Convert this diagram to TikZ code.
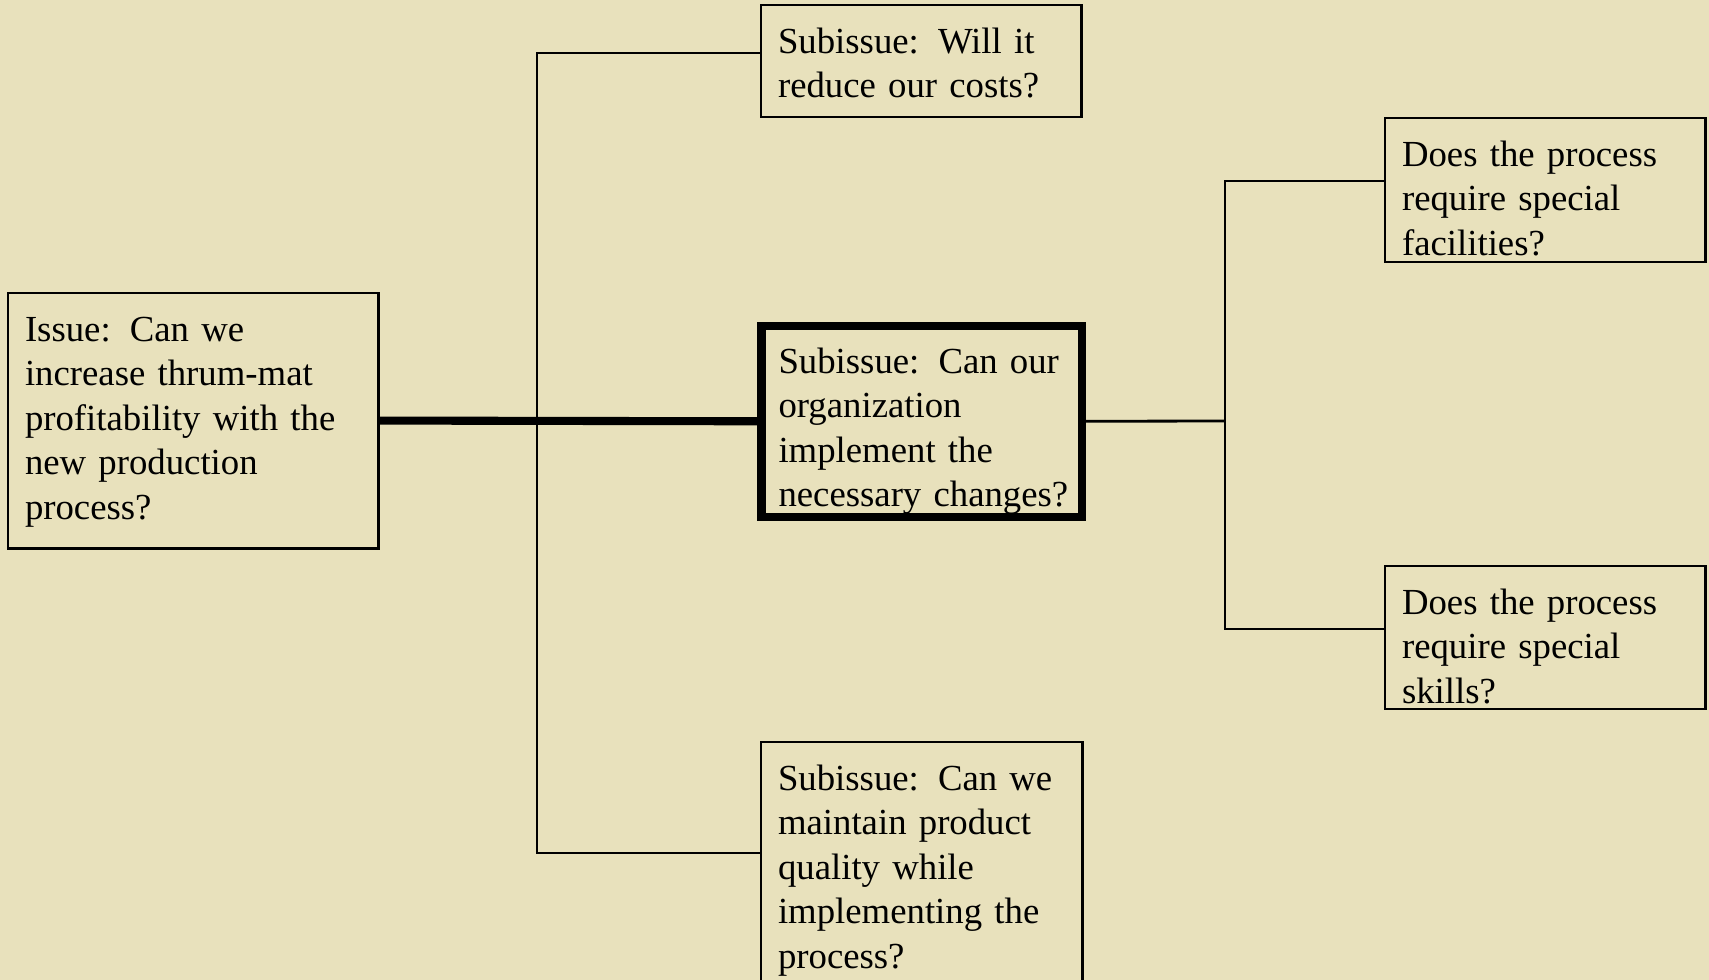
\documentclass[tikz,border=0pt]{standalone}
\usepackage{fontspec}
\setmainfont{Liberation Serif}
\definecolor{paper}{RGB}{232,225,188}
\newcommand{\gap}{\hspace{0.52em}}

\begin{document}
\begin{tikzpicture}[x=0.01cm, y=-0.01cm,
	box/.style={draw, line width=0.8pt, anchor=north west, outer sep=0pt,
		inner xsep=0.17cm, inner ysep=0pt, align=left, text height=0.48cm,
		font=\fontsize{10.45}{12.66}\selectfont},
	mainbox/.style={box, line width=2.3pt, text height=0.47cm},
	link/.style={line width=0.8pt},
	mainlink/.style={line width=2.3pt}]
	\fill[paper] (0,0) rectangle (1709,980);
	\useasboundingbox (0,0) rectangle (1709,980);

	\node[box, text width=3.36cm, text depth=2.07cm] (issue) at (8,293)
		{Issue:\gap Can we\\ increase thrum-mat\\ profitability with the\\ new production\\ process?};
	\node[box, text width=2.86cm, text depth=0.64cm] (sub1) at (761,5)
		{Subissue:\gap Will it\\ reduce our costs?};
	\node[mainbox, text width=2.86cm, text depth=1.435cm] (sub2) at (761.5,326)
		{Subissue:\gap Can~our\\ organization\\ implement the\\ necessary~changes?};
	\node[box, text width=2.87cm, text depth=2.12cm] (sub3) at (761,742)
		{Subissue:\gap Can we\\ maintain product\\ quality while\\ implementing the\\ process?};
	\node[box, text width=2.86cm, text depth=0.96cm] (facil) at (1385,118)
		{Does the process\\ require special\\ facilities?};
	\node[box, text width=2.86cm, text depth=0.95cm] (skills) at (1385,566)
		{Does the process\\ require special\\ skills?};

	\coordinate (fork) at (537,421);
	\coordinate (rfork) at (1225,421);

	\draw[link] ([yshift=-0.48cm]sub1.north west) -| (fork) |- ([yshift=-1.11cm]sub3.north west);
	\draw[mainlink] (issue.east) -- (sub2.west);
	\draw[link] (sub2.east) -- (rfork);
	\draw[link] ([yshift=-0.63cm]facil.north west) -| (rfork) |- ([yshift=-0.63cm]skills.north west);
\end{tikzpicture}
\end{document}
